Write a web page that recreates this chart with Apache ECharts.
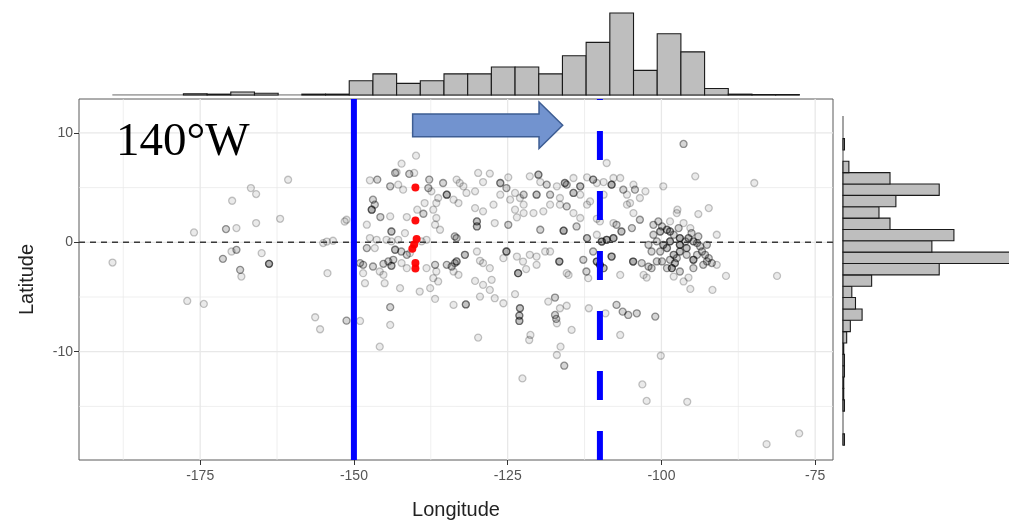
<!DOCTYPE html>
<html><head><meta charset="utf-8">
<script src="https://cdn.jsdelivr.net/npm/echarts@6/dist/echarts.min.js"></script>
<style>html,body{margin:0;padding:0;background:#fff}#c{width:1009px;height:526px}</style>
</head><body><div id="c"></div>
<script>
// ---------- axis setup ----------
const xTicks = [-175, -150, -125, -100, -75];
const xMinor = [-187.5, -162.5, -137.5, -112.5, -87.5];
const yTicks = [-10, 0, 10];
const yMinor = [-15, -5, 5];
const lonRange = [-194.7, -72.1];
const latRange = [-19.9, 13.1];
const solidLon = -150;
const dashedLon = -110;

// ---------- marginal histograms ----------
const lonBinStart = -189.28, lonBinWidth = 3.852;
const lonCounts = [0, 0, 0, 3, 2, 7, 4, 0, 2, 2,
  33, 49, 27, 33, 49, 49, 65, 65, 49, 91, 122, 190, 57, 142, 100, 15,
  2, 1, 1];
const latBinStart = -18.546, latBinWidth = 1.038;
const latCounts = [2, 0, 0, 2, 1, 1, 2, 2, 1, 5, 10, 26, 17, 12, 39, 131, 238, 121, 151, 64, 49, 72, 131, 64, 8, 0, 2, 0, 0];

// ---------- scatter points [lon, lat, overlap] ----------
const pointsWest = [
  [-160.7,5.72,1],[-166.75,4.96,1],[-165.9,4.41,1],[-169.8,3.80,1],[-162.0,2.15,1],[-165.9,1.76,1],
  [-170.8,1.21,2],[-169.1,1.30,1],[-176.0,0.90,1],[-155.0,-0.07,1],[-154.4,0.07,1],[-153.4,0.14,1],
  [-151.5,1.9,1],[-169.1,-0.69,2],[-169.9,-0.84,1],[-171.3,-1.51,2],[-165.0,-0.99,1],[-163.8,-1.97,4],
  [-168.5,-2.52,2],[-168.3,-3.13,1],[-189.25,-1.85,1],[-154.3,-2.82,1],[-177.1,-5.36,1],[-174.4,-5.63,1],
  [-156.3,-6.85,1],[-155.5,-7.95,1],[-151.2,-7.16,2]
];
const pointsMid = [
  [-139.9,7.92,1],[-142.25,7.19,1],[-143.3,6.34,2],[-143.06,6.40,1],[-141.0,6.25,2],[-140.2,6.34,1],
  [-146.2,5.73,2],[-147.4,5.67,1],[-144.1,5.12,2],[-142.8,5.27,1],[-142.0,4.81,1],[-137.75,5.73,2],
  [-137.9,4.96,2],[-137.4,4.66,1],[-135.5,5.42,2],[-134.9,4.35,4],[-136.3,4.05,1],[-136.6,3.59,1],
  [-133.3,5.73,1],[-132.8,5.42,1],[-132.2,5.12,1],[-133.8,3.9,1],[-133.0,3.59,1],[-131.7,4.51,1],
  [-146.9,3.9,2],[-147.1,2.98,4],[-146.6,3.44,2],[-145.7,2.31,2],[-144.1,2.37,1],[-147.9,1.61,1],
  [-151.2,2.06,1],[-141.4,2.31,1],[-139.7,2.98,1],[-138.5,3.59,1],[-138.7,2.61,2],[-137.1,2.98,1],
  [-136.6,2.22,1],[-136.8,1.61,1],[-136.0,1.15,1],[-143.9,0.99,3],[-141.7,0.84,1],[-147.4,0.39,1],
  [-146.3,0.23,1],[-144.7,0.23,1],[-143.9,0.08,1],[-142.8,0.23,1],[-139.0,0.08,1],[-138.2,0.23,1],
  [-133.6,0.54,2],[-133.3,0.39,2],[-147.9,-0.53,2],[-146.6,-0.53,1],[-143.3,-0.68,3],[-142.3,-0.84,2],
  [-141.4,-1.14,2],[-140.9,-0.99,1],[-149.0,-1.9,2],[-148.5,-2.06,2],[-146.9,-2.21,2],[-145.2,-1.97,2],
  [-144.4,-1.75,2],[-143.6,-1.6,2],[-143.9,-2.15,3],[-145.8,-2.67,1],[-145.2,-2.97,1],[-148.5,-2.82,1],
  [-148.2,-3.74,1],[-142.25,-1.9,1],[-141.4,-2.36,1],[-138.2,-2.36,1],[-136.8,-2.06,2],[-136.6,-2.67,1],
  [-134.9,-2.06,2],[-134.1,-2.21,2],[-133.6,-1.9,2],[-133.3,-1.75,3],[-131.95,-1.14,3],[-133.8,-2.67,1],
  [-133.0,-2.97,1],[-137.1,-3.28,1],[-136.3,-3.58,1],[-142.5,-4.19,1],[-145.0,-3.74,1],[-139.3,-4.5,1],
  [-137.6,-4.19,1],[-144.1,-5.93,2],[-144.1,-7.55,1],[-145.8,-9.54,1],[-136.8,-5.17,1],[-149.0,-7.19,1]
];
const pointsNorthBand = [
  [-129.8,6.34,1],[-127.9,6.28,1],[-129.0,5.51,1],[-130.3,4.66,1],[-126.2,5.42,3],[-124.9,5.94,1],
  [-125.2,4.96,2],[-123.8,4.51,1],[-123.0,4.05,1],[-122.4,3.44,1],[-121.4,6.03,1],[-120.0,6.18,3],
  [-119.7,5.51,1],[-118.65,5.27,2],[-117.0,5.12,1],[-115.7,5.42,3],[-115.4,5.27,2],[-114.3,5.88,1],
  [-113.2,5.12,3],[-112.1,5.94,1],[-111.1,5.73,3],[-110.5,5.42,1],[-109.4,5.51,1],[-108.9,7.25,1],
  [-108.1,5.27,4],[-107.8,5.88,1],[-106.7,5.88,1],[-106.2,4.81,2],[-105.6,4.35,1],[-104.55,5.27,1],
  [-104.3,4.81,2],[-103.5,4.05,1],[-102.6,4.66,1],[-99.7,5.12,1],[-126.2,4.35,1],[-124.6,3.9,1],
  [-122.4,4.35,2],[-120.3,4.35,3],[-118.1,4.35,2],[-116.5,4.05,1],[-114.3,4.51,3],[-113.2,4.35,1],
  [-111.6,3.74,1],[-118.1,3.44,1],[-116.5,3.44,1],[-114.3,2.67,1],[-113.2,2.22,1],[-112.1,3.44,1],
  [-115.4,3.28,2],[-127.3,3.44,1],[-129.0,2.83,1],[-130.3,3.13,1],[-123.8,2.98,1],[-122.4,2.67,1],
  [-120.8,2.67,1],[-119.2,2.83,1],[-130.0,1.91,3],[-130.0,1.45,3],[-127.1,1.76,1],[-124.9,1.6,2],
  [-123.5,2.28,1],[-119.7,1.15,2],[-115.9,1.06,4],[-113.8,1.45,2],[-110.5,2.15,1],[-110.0,1.91,1],
  [-107.8,1.76,1],[-105.6,3.44,1],[-109.4,4.35,1],[-105.1,3.59,1],[-112.1,0.38,3],[-110.5,0.69,1],
  [-104.55,2.67,1],[-103.5,2.06,2]
];
const pointsSouthBand = [
  [-133.8,-5.72,1],[-131.8,-5.68,3],[-129.5,-4.96,1],[-127.1,-5.11,1],[-125.7,-5.57,1],[-123.8,-4.74,1],
  [-127.9,-4.35,1],[-129.0,-3.89,1],[-130.3,-3.53,1],[-127.6,-3.43,1],[-123.3,-2.82,4],[-122.0,-2.45,1],
  [-130.0,-0.84,1],[-129.5,-1.69,1],[-127.9,-2.36,1],[-129.0,-1.9,1],[-125.2,-0.84,4],[-125.7,-1.45,1],
  [-123.5,-1.3,1],[-122.5,-1.76,1],[-121.4,-1.14,1],[-120.3,-1.3,1],[-120.3,-2.06,1],[-118.9,-0.84,1],
  [-118.1,-0.84,1],[-116.6,-1.76,4],[-115.4,-2.82,1],[-115.1,-2.98,1],[-112.7,-1.6,2],[-112.2,-2.67,2],
  [-111.9,-3.28,1],[-111.1,-0.84,2],[-110.5,-1.76,4],[-110.0,-2.06,4],[-109.4,-2.36,3],[-109.7,0.07,4],
  [-108.9,0.23,4],[-107.8,0.38,4],[-108.1,-1.3,4],[-106.5,0.99,3],[-107.3,1.6,2],[-104.8,1.3,2],
  [-106.7,-2.98,1],[-104.6,-1.76,4],[-103.2,-1.9,2],[-102.1,-2.22,2],[-101.6,-2.36,2],[-102.9,-2.98,1],
  [-102.4,-3.22,1],[-106.7,-8.47,1],[-115.8,-11.28,2],[-117.0,-10.3,1],[-116.4,-9.54,1],[-122.6,-12.44,1],
  [-121.5,-8.93,1],[-121.3,-8.47,1],[-129.8,-8.71,1],[-114.6,-8.01,1],[-117.3,-6.64,2],[-117.1,-7.0,2],
  [-117.0,-7.4,1],[-123.0,-6.03,3],[-123.1,-6.7,3],[-123.1,-7.19,3],[-117.3,-5.05,2],[-115.4,-5.8,1],
  [-116.5,-6.03,1],[-118.4,-5.42,1],[-111.8,-6.03,1],[-109.1,-6.49,1],[-107.3,-5.72,2],[-106.3,-6.34,2],
  [-105.4,-6.64,2],[-104.0,-6.49,2]
];
const pointsEast = [
  [-96.4,8.99,2],[-94.5,6.03,1],[-84.9,5.42,1],[-81.2,-3.07,1],[-89.5,-3.07,1],[-91.7,-4.35,1],
  [-95.3,-4.26,1],[-101.0,-6.79,2],[-100.1,-10.37,1],[-103.1,-12.99,1],[-102.4,-14.5,1],[-95.8,-14.58,1],
  [-77.6,-17.47,1],[-82.9,-18.45,1],
  [-100.5,1.91,2],[-99.9,1.45,2],[-99.1,1.15,3],[-98.6,0.99,3],[-98.0,0.69,2],[-97.2,1.3,2],
  [-97.0,0.38,4],[-96.1,0.08,2],[-95.6,0.38,3],[-94.8,0.08,3],[-94.2,-0.07,2],[-93.7,-0.38,2],
  [-93.4,-0.84,2],[-92.9,-1.14,2],[-92.6,-1.75,2],[-91.8,-1.9,2],[-91.0,-2.06,1],[-94.8,-1.6,4],
  [-95.9,-1.14,2],[-97.0,-0.84,3],[-98.0,-1.14,3],[-98.6,-1.6,2],[-97.8,-1.9,3],[-98.3,-2.36,4],
  [-99.1,-0.53,3],[-99.7,-0.23,3],[-100.75,0.08,2],[-101.3,0.69,2],[-102.1,-0.23,2],[-100.2,-0.84,2],
  [-94.0,0.54,2],[-95.3,1.3,1],[-97.5,2.67,1],[-97.4,2.98,1],[-94.0,2.58,1],[-92.3,3.13,1],
  [-91.0,0.69,1],[-93.2,-2.06,2],[-95.6,-3.22,1],[-96.4,-3.58,1],[-94.8,-2.36,2],[-99.1,-2.36,2],
  [-101.3,1.6,2],[-101.6,-0.84,2],[-100.2,0.99,3],[-98.6,0.08,4],[-97.0,-0.23,4],[-95.9,-0.53,3],
  [-97.5,-1.45,2],[-94.2,-1.14,2],[-99.9,-1.75,2],[-100.75,-1.75,2],[-97.0,-2.67,2],[-98.0,-3.13,1],
  [-92.3,-1.45,2],[-98.6,1.91,1],[-96.4,1.76,1],[-95.1,0.84,2],[-92.6,-0.23,2]
];
const redPoints = [[-140,5.0],[-140,2.0],[-139.8,0.3],[-140.2,-0.2],[-140.5,-0.6],[-140,-1.9],[-140,-2.4]];

// ---------- annotations (data coordinates) ----------
const arrowLon = { shaftStart: -140.45, headBase: -119.9, tip: -116.05 };
const arrowLat = { center: 10.7, shaftHalf: 1.04, headHalf: 2.13 };
const labelText = '140°W';
const labelAnchor = [-188.7, 7.0];

// ---------- build ----------
const allPoints = [].concat(pointsWest, pointsMid, pointsNorthBand, pointsSouthBand, pointsEast);
const scatterData = [];
allPoints.forEach(p => { for (let k = 0; k < p[2]; k++) scatterData.push([p[0], p[1]]); });
const lonBins = lonCounts.map((c, i) => [lonBinStart + i * lonBinWidth, lonBinStart + (i + 1) * lonBinWidth, c]).filter(d => d[2] > 0);
const latBins = latCounts.map((c, i) => [latBinStart + i * latBinWidth, latBinStart + (i + 1) * latBinWidth, c]).filter(d => d[2] > 0);
const lonHistEnd = lonBinStart + lonCounts.length * lonBinWidth;
const latHistEnd = latBinStart + latCounts.length * latBinWidth;

const barStyle = { fill: '#bebebe', stroke: '#1a1a1a', lineWidth: 1.1 };
const gridColor = '#e8e8e8';
const axisFont = 'Liberation Sans, Arial, sans-serif';

const vGrid = xMinor.map(v => [v, 0.7]).concat(xTicks.map(v => [v, 1.3]));
const hGrid = yMinor.map(v => [v, 0.7]).concat(yTicks.map(v => [v, 1.3]));

const chart = echarts.init(document.getElementById('c'), null, { renderer: 'canvas' });
const option = {
  animation: false,
  backgroundColor: '#ffffff',
  grid: [
    { left: 79, top: 99, width: 754, height: 361, show: true, borderColor: '#5a5a5a', borderWidth: 1, backgroundColor: '#fff' },
    { left: 79, top: 13, width: 754, height: 82 },
    { left: 843, top: 99, width: 166, height: 361 }
  ],
  xAxis: [
    { gridIndex: 0, type: 'value', min: lonRange[0], max: lonRange[1], position: 'bottom',
      name: 'Longitude', nameLocation: 'middle', nameGap: 40,
      nameTextStyle: { fontFamily: axisFont, fontSize: 20, color: '#222' },
      axisLine: { show: false, onZero: false }, splitLine: { show: false },
      axisTick: { show: true, length: 5, customValues: xTicks, lineStyle: { color: '#333', width: 1 } },
      axisLabel: { customValues: xTicks, fontFamily: axisFont, fontSize: 14, color: '#555', margin: 9 } },
    { gridIndex: 1, type: 'value', min: lonRange[0], max: lonRange[1], show: false },
    { gridIndex: 2, type: 'value', min: 0, max: 226, show: false }
  ],
  yAxis: [
    { gridIndex: 0, type: 'value', min: latRange[0], max: latRange[1], position: 'left',
      name: 'Latitude', nameLocation: 'middle', nameGap: 42, nameRotate: 90,
      nameTextStyle: { fontFamily: axisFont, fontSize: 20, color: '#222' },
      axisLine: { show: false, onZero: false }, splitLine: { show: false },
      axisTick: { show: true, length: 5, customValues: yTicks, lineStyle: { color: '#333', width: 1 } },
      axisLabel: { customValues: yTicks, fontFamily: axisFont, fontSize: 14, color: '#555', margin: 6 } },
    { gridIndex: 1, type: 'value', min: 0, max: 190, show: false },
    { gridIndex: 2, type: 'value', min: latRange[0], max: latRange[1], show: false }
  ],
  series: [
    // grid lines (vertical and horizontal)
    { type: 'custom', xAxisIndex: 0, yAxisIndex: 0, z: 0, silent: true, data: vGrid, encode: { x: 0 },
      renderItem: (params, api) => {
        const cs = params.coordSys;
        const p = api.coord([api.value(0), 0]);
        return { type: 'line', shape: { x1: p[0], y1: cs.y, x2: p[0], y2: cs.y + cs.height },
          style: { stroke: gridColor, lineWidth: api.value(1) } };
      } },
    { type: 'custom', xAxisIndex: 0, yAxisIndex: 0, z: 0, silent: true, data: hGrid, encode: { y: 0 },
      renderItem: (params, api) => {
        const cs = params.coordSys;
        const p = api.coord([lonRange[0], api.value(0)]);
        return { type: 'line', shape: { x1: cs.x, y1: p[1], x2: cs.x + cs.width, y2: p[1] },
          style: { stroke: gridColor, lineWidth: api.value(1) } };
      } },
    // scatter
    { type: 'scatter', xAxisIndex: 0, yAxisIndex: 0, data: scatterData, z: 2, silent: true,
      symbol: 'circle', symbolSize: 7,
      itemStyle: { color: 'rgba(0,0,0,0.10)', borderColor: 'rgba(0,0,0,0.28)', borderWidth: 1.3 } },
    // zero line
    { type: 'line', xAxisIndex: 0, yAxisIndex: 0, z: 3, silent: true, symbol: 'none',
      data: [[lonRange[0], 0], [lonRange[1], 0]],
      lineStyle: { color: '#3a3a3a', width: 1.4, type: [6, 5] } },
    // blue reference lines
    { type: 'line', xAxisIndex: 0, yAxisIndex: 0, z: 4, silent: true, symbol: 'none',
      data: [[solidLon, latRange[0]], [solidLon, latRange[1]]],
      lineStyle: { color: '#0000ff', width: 6 } },
    { type: 'line', xAxisIndex: 0, yAxisIndex: 0, z: 4, silent: true, symbol: 'none',
      data: [[dashedLon, latRange[0]], [dashedLon, latRange[1]]],
      lineStyle: { color: '#0000ff', width: 6, type: [29, 31] } },
    // red points
    { type: 'scatter', xAxisIndex: 0, yAxisIndex: 0, data: redPoints, z: 5, silent: true,
      symbol: 'circle', symbolSize: 8, itemStyle: { color: '#ff0000', opacity: 0.95 } },
    // top histogram
    { type: 'line', xAxisIndex: 1, yAxisIndex: 1, z: 1, silent: true, symbol: 'none',
      data: [[lonBinStart, 0], [lonHistEnd, 0]], lineStyle: { color: '#8c8c8c', width: 1.6 } },
    { type: 'custom', xAxisIndex: 1, yAxisIndex: 1, z: 2, silent: true, data: lonBins,
      encode: { x: [0, 1], y: 2 },
      renderItem: (params, api) => {
        const a = api.coord([api.value(0), 0]);
        const b = api.coord([api.value(1), api.value(2)]);
        return { type: 'rect', shape: { x: a[0], y: b[1], width: b[0] - a[0], height: a[1] - b[1] }, style: barStyle };
      } },
    // right histogram
    { type: 'line', xAxisIndex: 2, yAxisIndex: 2, z: 1, silent: true, symbol: 'none',
      data: [[0, latBinStart], [0, latHistEnd]], lineStyle: { color: '#8c8c8c', width: 1.6 } },
    { type: 'custom', xAxisIndex: 2, yAxisIndex: 2, z: 2, silent: true, data: latBins,
      encode: { y: [0, 1], x: 2 },
      renderItem: (params, api) => {
        const a = api.coord([0, api.value(0)]);
        const b = api.coord([api.value(2), api.value(1)]);
        return { type: 'rect', shape: { x: a[0], y: b[1], width: b[0] - a[0], height: a[1] - b[1] }, style: barStyle };
      } }
  ]
};
chart.setOption(option);

// annotations positioned through the main grid's scales
const px = (lon, lat) => chart.convertToPixel({ gridIndex: 0 }, [lon, lat]);
const c = arrowLat.center, sh = arrowLat.shaftHalf, hh = arrowLat.headHalf;
const arrowPts = [
  px(arrowLon.shaftStart, c + sh), px(arrowLon.headBase, c + sh), px(arrowLon.headBase, c + hh),
  px(arrowLon.tip, c), px(arrowLon.headBase, c - hh), px(arrowLon.headBase, c - sh), px(arrowLon.shaftStart, c - sh)
];
const lab = px(labelAnchor[0], labelAnchor[1]);
chart.setOption({
  graphic: [
    { type: 'polygon', z: 10, silent: true, shape: { points: arrowPts },
      style: { fill: '#7293cf', stroke: '#3d5d93', lineWidth: 1.5 } },
    { type: 'text', z: 10, silent: true, x: lab[0], y: lab[1],
      style: { text: labelText, fontFamily: 'Liberation Serif, serif', fontSize: 47, fill: '#000',
        textAlign: 'left', textVerticalAlign: 'bottom' } }
  ]
});
</script>
</body></html>
